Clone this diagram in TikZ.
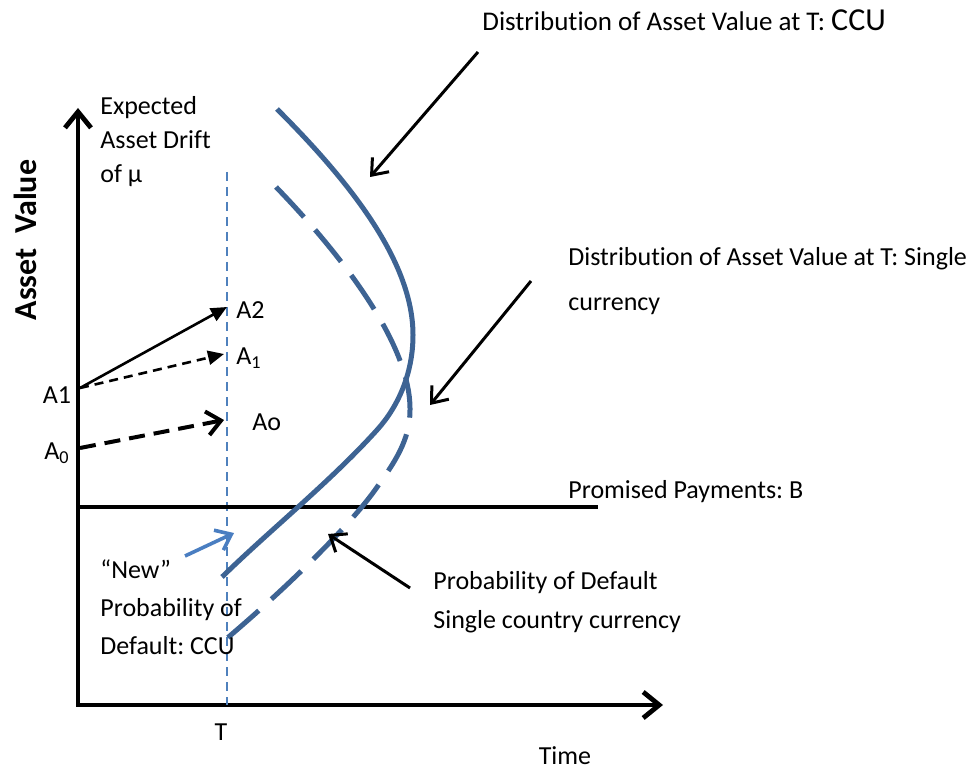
\documentclass[tikz,border=0pt]{standalone}
\usepackage{fontspec}
\setmainfont[Ligatures=NoCommon]{Carlito}
\frenchspacing
\usetikzlibrary{arrows.meta}
\definecolor{curveblue}{RGB}{61,99,147}
\definecolor{tblue}{RGB}{79,129,189}
\definecolor{arrowblue}{RGB}{74,126,193}
\begin{document}
\begin{tikzpicture}[x=0.5pt,y=-0.5pt,
  txt/.style={inner sep=0pt, font=\fontsize{13}{17}\selectfont, align=left},
  axisline/.style={line width=2.4pt, line join=miter},
  triarrow/.style={-{Triangle[length=8pt,width=7pt]}},
  pointer/.style={line width=1.5pt, -{Straight Barb[length=7pt,width=11pt]}},
  curvesolid/.style={curveblue, line width=2.5pt},
  curvedash/.style={curveblue, line width=2.5pt, dash pattern=on 20.5pt off 8.5pt},
]
\useasboundingbox (0,0) rectangle (974,775);

% axes
\coordinate (O) at (78,705);
\coordinate (ytop) at (78,108);
\coordinate (xend) at (663,705);
\draw[axisline, {Straight Barb[length=8pt,width=13pt]}-{Straight Barb[length=8pt,width=13pt]}] (ytop) -- (O) -- (xend);

% T line
\coordinate (Ttop) at (227,172);
\coordinate (Tbot) at (227,705);
\draw[tblue, line width=0.8pt, dash pattern=on 4.5pt off 3pt] (Ttop) -- (Tbot);

% promised payments line
\coordinate (Bl) at (78,507);
\coordinate (Br) at (598,507);
\draw[line width=2pt] (Bl) -- (Br);

% curves
\coordinate (s0) at (277,109);
\coordinate (s1) at (413,335);
\coordinate (s2) at (377,430);
\coordinate (s3) at (222,577);
\draw[curvesolid] (s0) .. controls (347,179) and (413,260) .. (s1)
  .. controls (413,375) and (397,408) .. (s2)
  .. controls (330,482) and (270,530) .. (s3);
\coordinate (d0) at (276,187);
\coordinate (d1) at (410,410);
\coordinate (d2) at (375,490);
\coordinate (d3) at (225,640);
\draw[curvedash] (d0) .. controls (336,249) and (411,342) .. (d1)
  .. controls (410,440) and (395,462) .. (d2)
  .. controls (350,525) and (290,585) .. (d3);

% drift arrows
\coordinate (a1o) at (80,388);
\coordinate (a0o) at (80,448);
\coordinate (a2t) at (227,307);
\coordinate (a1t) at (224,354);
\coordinate (a0t) at (224,420);
\draw[line width=1.3pt, triarrow] (a1o) -- (a2t);
\draw[line width=1.3pt, dash pattern=on 4.5pt off 3pt, triarrow] (a1o) -- (a1t);
\draw[line width=2pt, dash pattern=on 8pt off 4.5pt, -{Straight Barb[length=7pt,width=12pt]}] (a0o) -- (a0t);

% labels
\node[txt, font=\fontsize{16}{17}\selectfont\bfseries, rotate=90] (yl) at (25,240) {Asset~~Value};
\node[txt, anchor=west] (drift) at (100,142) {Expected\\Asset Drift\\of μ};
\node[txt] (lA1) at (57,395) {A1};
\node[txt] (lA0) at (57,453) {A\textsubscript{0}};
\node[txt, anchor=west] (lA2) at (236,310) {A2};
\node[txt, anchor=west] (lA1b) at (236,358) {A\textsubscript{1}};
\node[txt, anchor=west] (lAo) at (252,422) {Ao};
\node[txt] (lT) at (221,732) {T};
\node[txt] (ltime) at (565,756) {Time};
\node[txt, anchor=west] (lB) at (568,492) {Promised Payments: B};

\node[txt, anchor=west, font=\fontsize{13.5}{17}\selectfont] (lccu) at (482,20) {Distribution of Asset Value at T: {\fontsize{16}{17}\selectfont CCU}};
\node[txt, anchor=west, font=\fontsize{13}{22.5}\selectfont] (lsingle) at (568,281) {Distribution of Asset Value at T: Single\\currency};
\node[txt, anchor=west, font=\fontsize{13}{19.5}\selectfont] (lpd) at (433,602) {Probability of Default\\Single country currency};
\node[txt, anchor=west, font=\fontsize{13}{19}\selectfont] (lnew) at (100,607) {“New”\\Probability of\\Default: CCU};

% pointer arrows
\coordinate (pccu0) at (478,52);
\coordinate (pccu1) at (370,177);
\draw[pointer] (pccu0) -- (pccu1);
\coordinate (psing0) at (531,281);
\coordinate (psing1) at (430,405);
\draw[pointer] (psing0) -- (psing1);
\coordinate (ppd0) at (410,588);
\coordinate (ppd1) at (328,534);
\draw[pointer] (ppd0) -- (ppd1);
\coordinate (pnew0) at (185,556);
\coordinate (pnew1) at (234,533);
\draw[pointer, arrowblue, line width=1.8pt] (pnew0) -- (pnew1);
\end{tikzpicture}
\end{document}
